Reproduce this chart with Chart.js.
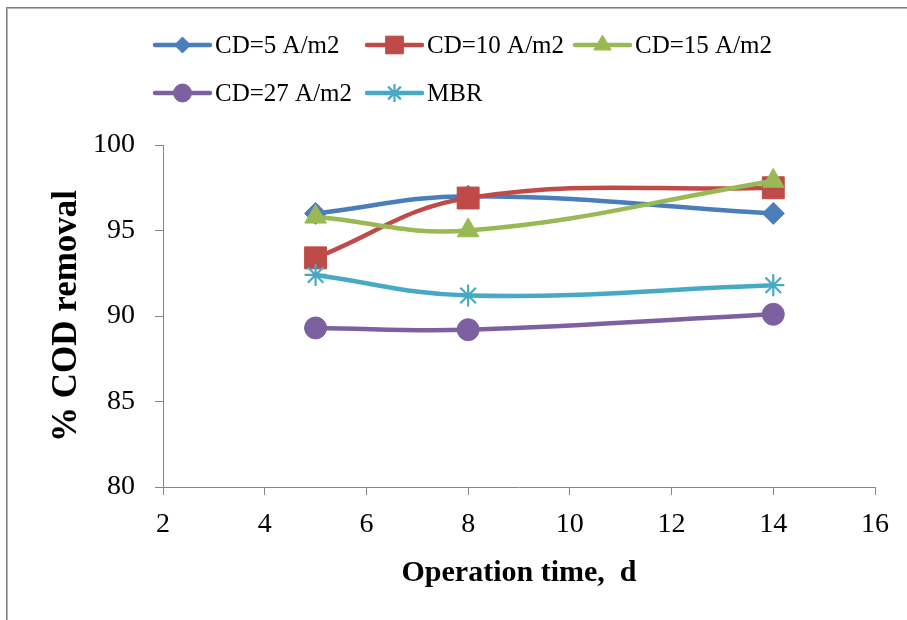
<!DOCTYPE html>
<html>
<head>
<meta charset="utf-8">
<script src="https://cdn.jsdelivr.net/npm/chart.js@4/dist/chart.umd.min.js"></script>
<style>
  html, body { margin: 0; padding: 0; background: #fff; }
  #wrap { position: relative; width: 907px; height: 620px; }
  #frame {
    position: absolute; left: 6px; top: 7px; right: 0; bottom: 0;
    border-top: 1px solid #7f7f7f; border-left: 1px solid #7f7f7f;
    box-shadow: inset 1px 1px 0 #b5b5b5;
  }
  #grafico { position: absolute; left: 0; top: 0; }
</style>
</head>
<body>
<div id="wrap">
  <div id="frame"></div>
  <canvas id="grafico" width="907" height="620"></canvas>
</div>
<script>
// datos
const dias = [5, 8, 14];
const etiquetas = ['CD=5 A/m2', 'CD=10 A/m2', 'CD=15 A/m2', 'CD=27 A/m2', 'MBR'];
const cd5 = [96.0, 97.0, 96.0];
const cd10 = [93.4, 96.9, 97.5];
const cd15 = [95.8, 95.0, 97.9];
const cd27 = [89.3, 89.2, 90.1];
const mbr = [92.4, 91.2, 91.8];
const xTicks = [2, 4, 6, 8, 10, 12, 14, 16];
const yTicks = [80, 85, 90, 95, 100];

const colores = ['#4A7EBB', '#BE4B48', '#98B954', '#7D60A0', '#46AAC5'];
const estilos = ['rectRot', 'rect', 'triangle', 'circle', 'star'];
const radios = [11, 15.5, 12.5, 11, 11];
const radiosLeyenda = [8, 12.5, 10, 9, 9];
const series = [cd5, cd10, cd15, cd27, mbr];

// la ultima serie queda encima, como en Excel
const datasets = series.map((valores, i) => ({
    label: etiquetas[i],
    data: valores.map((v, j) => ({ x: dias[j], y: v })),
    order: series.length - i,
    borderColor: colores[i],
    backgroundColor: colores[i],
    borderWidth: 4.5,
    tension: 0.4,
    pointStyle: estilos[i],
    pointRadius: radios[i],
    pointHoverRadius: radios[i],
    pointBorderWidth: estilos[i] === 'star' ? 2.2 : 1,
    pointBorderColor: colores[i],
    pointBackgroundColor: colores[i]
}));

// leyenda dibujada a mano en la parte superior
const posLeyenda = [[155, 45], [367, 45], [575, 45], [155, 93], [367, 93]];
const leyendaPlugin = {
    id: 'leyendaExcel',
    afterDraw(chart) {
        const ctx = chart.ctx;
        ctx.save();
        chart.data.datasets.forEach((ds, i) => {
            const [x0, y] = posLeyenda[i];
            ctx.strokeStyle = ds.borderColor;
            ctx.lineWidth = 4.5;
            ctx.lineCap = 'round';
            ctx.beginPath();
            ctx.moveTo(x0, y);
            ctx.lineTo(x0 + 55, y);
            ctx.stroke();
            ctx.fillStyle = ds.backgroundColor;
            ctx.lineWidth = ds.pointBorderWidth;
            ctx.lineCap = 'butt';
            Chart.helpers.drawPoint(ctx, {
                pointStyle: ds.pointStyle,
                radius: radiosLeyenda[i],
                rotation: 0,
                borderWidth: ds.pointBorderWidth
            }, x0 + 27.5, y);
            ctx.fillStyle = '#000';
            ctx.font = '25px "Liberation Serif"';
            ctx.textBaseline = 'middle';
            ctx.textAlign = 'left';
            ctx.fillText(ds.label, x0 + 60, y + 1);
        });
        ctx.restore();
    }
};

const gris = '#868686';
new Chart(document.getElementById('grafico'), {
    type: 'line',
    data: { datasets },
    plugins: [leyendaPlugin],
    options: {
        responsive: false,
        animation: false,
        events: [],
        layout: { padding: { top: 145, right: 32, left: 42, bottom: 25 } },
        plugins: { legend: { display: false }, tooltip: { enabled: false } },
        scales: {
            x: {
                type: 'linear',
                min: 2,
                max: 16,
                afterFit(scale) { scale.height = 108; },
                afterBuildTicks(scale) { scale.ticks = xTicks.map(v => ({ value: v })); },
                grid: { drawOnChartArea: false, color: gris, tickLength: 8 },
                border: { color: gris, width: 1 },
                ticks: {
                    color: '#000',
                    padding: 13,
                    maxRotation: 0,
                    font: { family: '"Liberation Serif"', size: 28 }
                },
                title: {
                    display: true,
                    text: 'Operation time,  d',
                    color: '#000',
                    font: { family: '"Liberation Serif"', size: 30, weight: 'bold' }
                }
            },
            y: {
                min: 80,
                max: 100,
                afterFit(scale) { scale.width = 121; },
                afterBuildTicks(scale) { scale.ticks = yTicks.map(v => ({ value: v })); },
                grid: { drawOnChartArea: false, color: gris, tickLength: 8 },
                border: { color: gris, width: 1 },
                ticks: {
                    color: '#000',
                    padding: 20,
                    font: { family: '"Liberation Serif"', size: 28 }
                },
                title: {
                    display: true,
                    text: '% COD removal',
                    color: '#000',
                    font: { family: '"Liberation Serif"', size: 35, weight: 'bold' }
                }
            }
        }
    }
});
</script>
</body>
</html>
